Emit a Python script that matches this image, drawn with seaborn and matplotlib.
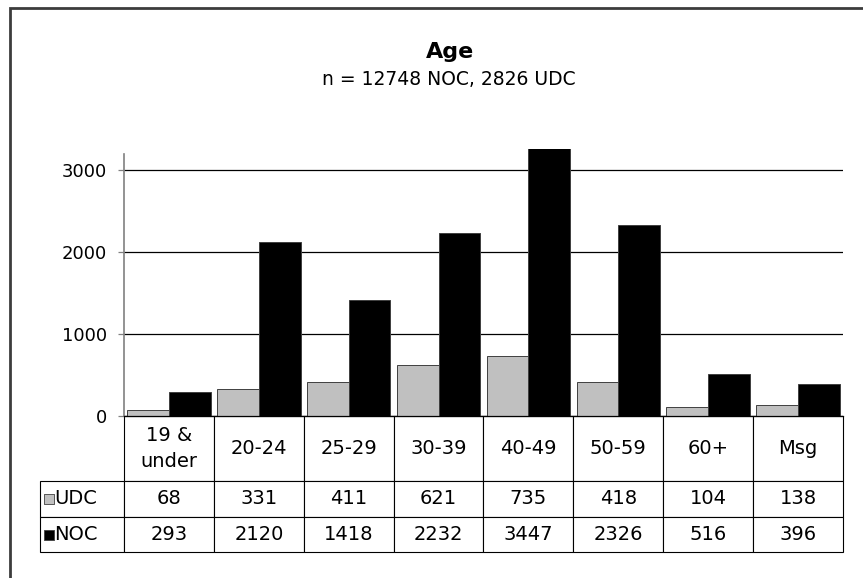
import matplotlib
matplotlib.use("Agg")
import matplotlib.pyplot as plt
import matplotlib.transforms as mtransforms
import numpy as np
import pandas as pd
import seaborn as sns
from matplotlib.patches import Rectangle
from matplotlib.table import Table

age_groups = ["19 &\nunder", "20-24", "25-29", "30-39", "40-49", "50-59", "60+", "Msg"]
udc_counts = [68, 331, 411, 621, 735, 418, 104, 138]
noc_counts = [293, 2120, 1418, 2232, 3447, 2326, 516, 396]
series = ["UDC", "NOC"]
colors = {"UDC": "#c0c0c0", "NOC": "#000000"}

df = pd.DataFrame({
    "age": age_groups * 2,
    "group": ["UDC"] * len(age_groups) + ["NOC"] * len(age_groups),
    "count": udc_counts + noc_counts,
})

sns.set_theme(style="white")
plt.rcParams["font.family"] = ["DejaVu Sans"]
plt.rcParams["text.color"] = "black"
plt.rcParams["ytick.labelcolor"] = "black"

W, H = 863, 578
fig = plt.figure(figsize=(W / 100, H / 100), dpi=100)
fig.patch.set_facecolor("white")

# plot area in pixels
left_px, right_px, zero_px, top_px = 124, 843, 416, 149
ax = fig.add_axes([left_px / W, (H - zero_px) / H,
                   (right_px - left_px) / W, (zero_px - top_px) / H])

sns.barplot(data=df, x="age", y="count", hue="group", hue_order=series,
            palette=colors, width=0.93, edgecolor="#404040", linewidth=0.7,
            legend=False, ax=ax, saturation=1)

ax.set_xlim(-0.5, len(age_groups) - 0.5)
ax.set_ylim(0, 3256)
ax.set_yticks([0, 1000, 2000, 3000])
ax.set_xticks([])
ax.set_xlabel("")
ax.set_ylabel("")
ax.tick_params(axis="y", direction="out", length=4.5, width=0.9, color="#808080",
               labelcolor="black", labelsize=13, pad=8, left=True)
ax.yaxis.grid(True, color="black", linewidth=0.9)
ax.set_axisbelow(True)
for s in ["top", "right"]:
    ax.spines[s].set_visible(False)
ax.spines["left"].set_color("#808080")
ax.spines["left"].set_linewidth(1.2)
ax.spines["left"].set_bounds(0, 3200)
ax.spines["bottom"].set_color("black")
ax.spines["bottom"].set_linewidth(0.9)

# data table under the plot (cell sizes in axes fractions)
plot_w = right_px - left_px
plot_h = zero_px - top_px
lab_left = 40
col_w = 1 / len(age_groups)
lab_w = (left_px - lab_left) / plot_w
row_h = [65 / plot_h, 36 / plot_h, 35 / plot_h]
tab_h = sum(row_h)
tbl = Table(ax, bbox=[0, -tab_h, 1, tab_h])
for j, lab in enumerate(age_groups):
    c = tbl.add_cell(0, j, col_w, row_h[0], text=lab, loc="center")
    c.get_text().set_linespacing(1.5)
for i, (name, vals) in enumerate(zip(series, [udc_counts, noc_counts]), start=1):
    c = tbl.add_cell(i, -1, lab_w, row_h[i], text=name, loc="left")
    c.PAD = 0.17
    for j, v in enumerate(vals):
        tbl.add_cell(i, j, col_w, row_h[i], text=str(v), loc="center")
tbl.auto_set_font_size(False)
tbl.set_fontsize(14)
for cell in tbl.get_celld().values():
    cell.set_edgecolor("black")
    cell.set_linewidth(0.8)
    cell.set_facecolor("white")
ax.add_table(tbl)

# legend keys inside the row label cells
trans = mtransforms.blended_transform_factory(ax.transAxes, ax.transAxes)
key_x = -(left_px - 49) / plot_w
for i, name in enumerate(series, start=1):
    y_mid = -(sum(row_h[:i]) + row_h[i] / 2)
    ax.scatter([key_x], [y_mid], marker="s", s=52, color=colors[name],
               edgecolor="#404040", linewidth=0.6, transform=trans, clip_on=False,
               zorder=5)

# titles
fig.text(0.522, 1 - 58 / H, "Age", ha="center", va="baseline",
         fontsize=16, fontweight="bold")
fig.text(0.520, 1 - 85 / H, "n = 12748 NOC, 2826 UDC", ha="center",
         va="baseline", fontsize=13.5)

# outer chart frame (runs off right and bottom)
fig.patches.append(Rectangle((9.5 / W, -0.2), 1.5, 1.2 - 7.5 / H,
                             transform=fig.transFigure, fill=False,
                             edgecolor="#3c3c3c", linewidth=2))

fig.savefig("out.png", dpi=100)
